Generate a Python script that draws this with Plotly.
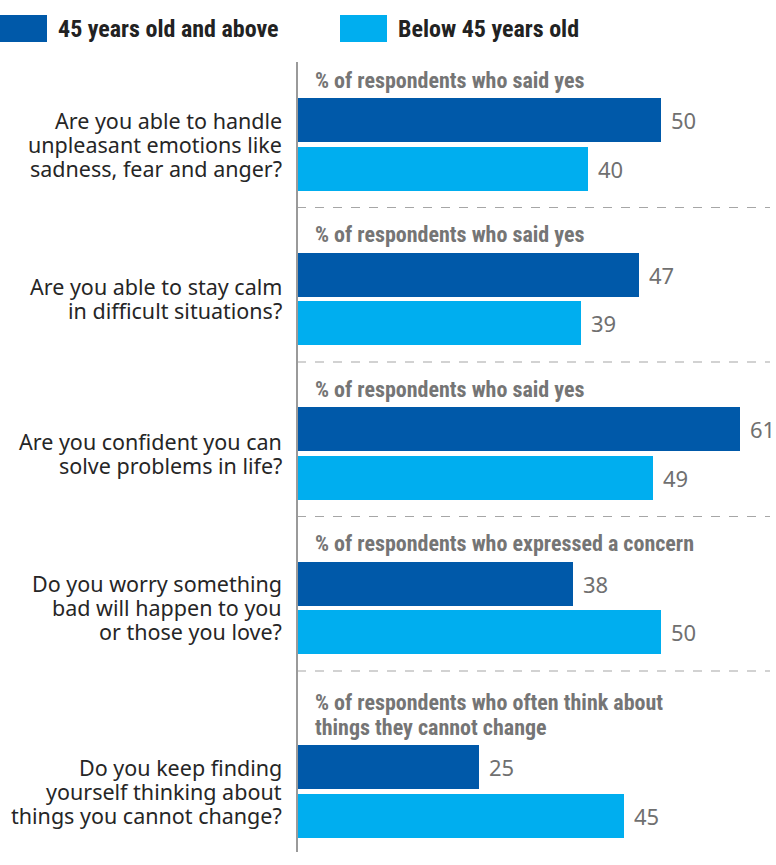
import plotly.graph_objects as go

# ---------------- data ----------------
questions = [
    ["Are you able to handle", "unpleasant emotions like", "sadness, fear and anger?"],
    ["Are you able to stay calm", "in difficult situations?"],
    ["Are you confident you can", "solve problems in life?"],
    ["Do you worry something", "bad will happen to you", "or those you love?"],
    ["Do you keep finding", "yourself thinking about", "things you cannot change?"],
]
subtitles = [
    ["% of respondents who said yes"],
    ["% of respondents who said yes"],
    ["% of respondents who said yes"],
    ["% of respondents who expressed a concern"],
    ["% of respondents who often think about", "things they cannot change"],
]
series_names = ["45 years old and above", "Below 45 years old"]
older = [50, 47, 61, 38, 25]
younger = [40, 39, 49, 50, 45]

# ---------------- layout constants (pixel-like units) ----------------
W, H = 776, 865
AXIS_X = 297
PX_PER_UNIT = 7.27
TOP0 = 98
BAR_H = 44
PAIR_GAP = 4.5
SEP_BELOW = 17
NEXT_GAP = 45
SUB_LINE = 25
Q_LINE = 24
DARK = "#0059A9"
LIGHT = "#00AEEF"
COND = "Roboto Condensed, Open Sans Condensed, sans-serif"
REG = "Noto Sans, Open Sans, sans-serif"

dark_y, light_y, seps, tops = [], [], [], []
top = TOP0
for i in range(len(older)):
    tops.append(top)
    dark_y.append(top + BAR_H / 2)
    light_y.append(top + BAR_H + PAIR_GAP + BAR_H / 2)
    bottom = top + 2 * BAR_H + PAIR_GAP
    if i < len(older) - 1:
        sep = bottom + SEP_BELOW
        seps.append(sep)
        top = sep + NEXT_GAP + 29 * (len(subtitles[i + 1]) - 1)

fig = go.Figure()
fig.add_trace(go.Bar(x=older, y=dark_y, orientation="h", width=BAR_H,
                     marker=dict(color=DARK, line=dict(width=0)),
                     name=series_names[0], hoverinfo="x"))
fig.add_trace(go.Bar(x=younger, y=light_y, orientation="h", width=BAR_H,
                     marker=dict(color=LIGHT, line=dict(width=0)),
                     name=series_names[1], hoverinfo="x"))

ann = []
shapes = []
for i in range(len(older)):
    # value labels
    for v, yc in ((older[i], dark_y[i]), (younger[i], light_y[i])):
        ann.append(dict(x=v, y=yc, xref="x", yref="y", text=str(v), showarrow=False,
                        xanchor="left", yanchor="middle", xshift=8,
                        font=dict(family=REG, size=22, color="#707070")))
    # question lines, centred on the pair
    center = (dark_y[i] + light_y[i]) / 2
    n = len(questions[i])
    for k, line in enumerate(questions[i]):
        yy = center + (k - (n - 1) / 2) * Q_LINE
        ann.append(dict(x=(AXIS_X - 13) / W, y=yy, xref="paper", yref="y", text=line,
                        showarrow=False, xanchor="right", yanchor="middle",
                        font=dict(family=REG, size=21.5, color="#262626")))
    # subtitle lines
    m = len(subtitles[i])
    for k, line in enumerate(subtitles[i]):
        yy = tops[i] - 18 - (m - 1 - k) * SUB_LINE
        ann.append(dict(x=(AXIS_X + 16) / W, y=yy, xref="paper", yref="y", text="<b>" + line + "</b>",
                        showarrow=False, xanchor="left", yanchor="middle",
                        font=dict(family=COND, size=22, color="#757575")))

for s in seps:
    shapes.append(dict(type="line", xref="paper", yref="y", x0=AXIS_X / W, x1=770 / W, y0=s, y1=s,
                       line=dict(color="#a6a6a6", width=1.2, dash="dash")))
shapes.append(dict(type="line", xref="paper", yref="y", x0=AXIS_X / W, x1=AXIS_X / W, y0=62, y1=852,
                   line=dict(color="#9a9a9a", width=2)))

# legend
legend_items = [(0, DARK, series_names[0]), (340, LIGHT, series_names[1])]
for lx, col, name in legend_items:
    shapes.append(dict(type="rect", xref="paper", yref="y", x0=lx / W, x1=(lx + 47) / W,
                       y0=15, y1=42, fillcolor=col, line=dict(width=0)))
    ann.append(dict(x=(lx + 56) / W, y=29, xref="paper", yref="y", text="<b>" + name + "</b>",
                    showarrow=False, xanchor="left", yanchor="middle",
                    font=dict(family=COND, size=24, color="#222222")))

fig.update_layout(
    width=W, height=H,
    margin=dict(l=0, r=0, t=0, b=0),
    paper_bgcolor="white", plot_bgcolor="white",
    showlegend=False, bargap=0,
    xaxis=dict(domain=[AXIS_X / W, 1], range=[0, (W - AXIS_X) / PX_PER_UNIT],
               visible=False, fixedrange=True),
    yaxis=dict(domain=[0, 1], range=[H, 0], visible=False, fixedrange=True),
    annotations=ann, shapes=shapes,
)

fig.write_html("out.html")
